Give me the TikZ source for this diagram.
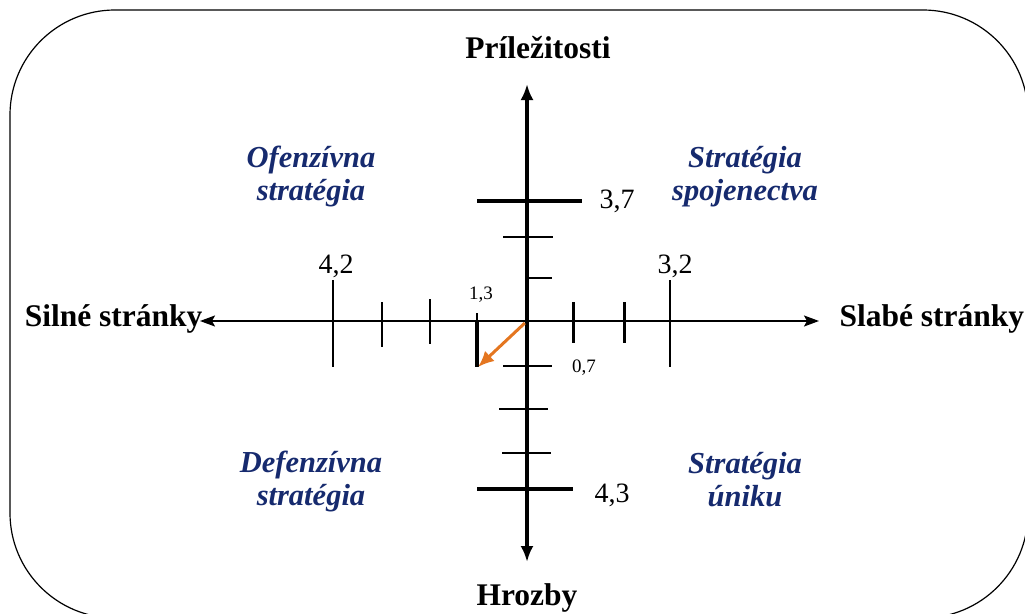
\documentclass[tikz,border=0pt]{standalone}
\usepackage{fontspec}
\setmainfont{Liberation Serif}
\usetikzlibrary{arrows.meta}
\definecolor{navy}{RGB}{22,42,110}
\definecolor{trendorange}{RGB}{228,118,32}

\begin{document}
\begin{tikzpicture}[
    x=1pt, y=-1pt,
    frame/.style={draw, line width=1.2pt, rounded corners=105pt},
    axislabel/.style={font=\fontsize{31.5}{35}\selectfont\bfseries, anchor=base},
    quadrant/.style={font=\fontsize{30.5}{33}\selectfont\bfseries\itshape, text=navy, align=center},
    value/.style={font=\fontsize{28}{30}\selectfont, anchor=base},
    smallvalue/.style={font=\fontsize{19}{20}\selectfont, anchor=base},
    vaxis/.style={{Latex[length=16pt,width=13pt]}-{Latex[length=16pt,width=13pt]}, line width=3.5pt},
    haxis/.style={{Stealth[length=15pt,width=11pt,inset=3pt]}-{Stealth[length=15pt,width=11pt,inset=3pt]}, line width=1.8pt},
    tick/.style={line width=2pt},
    boldtick/.style={line width=3.5pt},
    trend/.style={-{Latex[length=16pt,width=14pt]}, line width=3pt, draw=trendorange, fill=trendorange}
]
\useasboundingbox (0,0) rectangle (1025,613);
\draw[frame] (10,10) rectangle (1028,618);

\node[axislabel] (opp) at (538,58) {Príležitosti};
\node[axislabel] (thr) at (527,605) {Hrozby};
\node[axislabel, anchor=base east] (str) at (206,326) {Silné stránky};
\node[axislabel, anchor=base west] (weak) at (836,326) {Slabé stránky};

\node[quadrant] (off) at (311,177) {Ofenzívna\\stratégia};
\node[quadrant] (alli) at (745,177) {Stratégia\\spojenectva};
\node[quadrant] (def) at (311,482) {Defenzívna\\stratégia};
\node[quadrant] (esc) at (745,480) {Stratégia\\úniku};

\coordinate (ntop) at (527,84);
\coordinate (nbot) at (527,562);
\coordinate (wl) at (200,321);
\coordinate (er) at (819,321);
\coordinate (origin) at (527,321);
\coordinate (pos) at (478,367);

\draw[haxis] (wl) -- (er);
\draw[vaxis] (nbot) -- (ntop);

\draw[boldtick] (477,201) -- (582,201);
\draw[tick] (503,237) -- (553,237);
\draw[tick] (527,278) -- (552,278);
\draw[tick] (503,366) -- (552,366);
\draw[tick] (499,409) -- (548,409);
\draw[tick] (502,453) -- (551,453);
\draw[boldtick] (477,489) -- (573,489);

\draw[tick] (333,280) -- (333,367);
\draw[tick] (382,302) -- (382,347);
\draw[tick] (430,299) -- (430,344);
\draw[tick] (477,313) -- (477,367);
\draw[boldtick] (477,321) -- (477,367);
\draw[line width=3pt] (573,302) -- (573,343);
\draw[line width=3pt] (624,302) -- (624,343);
\draw[tick] (670,280) -- (670,367);

\node[value] (v37) at (617,208) {3,7};
\node[value] (v43) at (612,502) {4,3};
\node[value] (v42) at (336,273) {4,2};
\node[value] (v32) at (675,273) {3,2};
\node[smallvalue] (v13) at (481,299) {1,3};
\node[smallvalue] (v07) at (584,372) {0,7};

\draw[trend, shorten <=3pt] (origin) -- (pos);
\end{tikzpicture}
\end{document}
